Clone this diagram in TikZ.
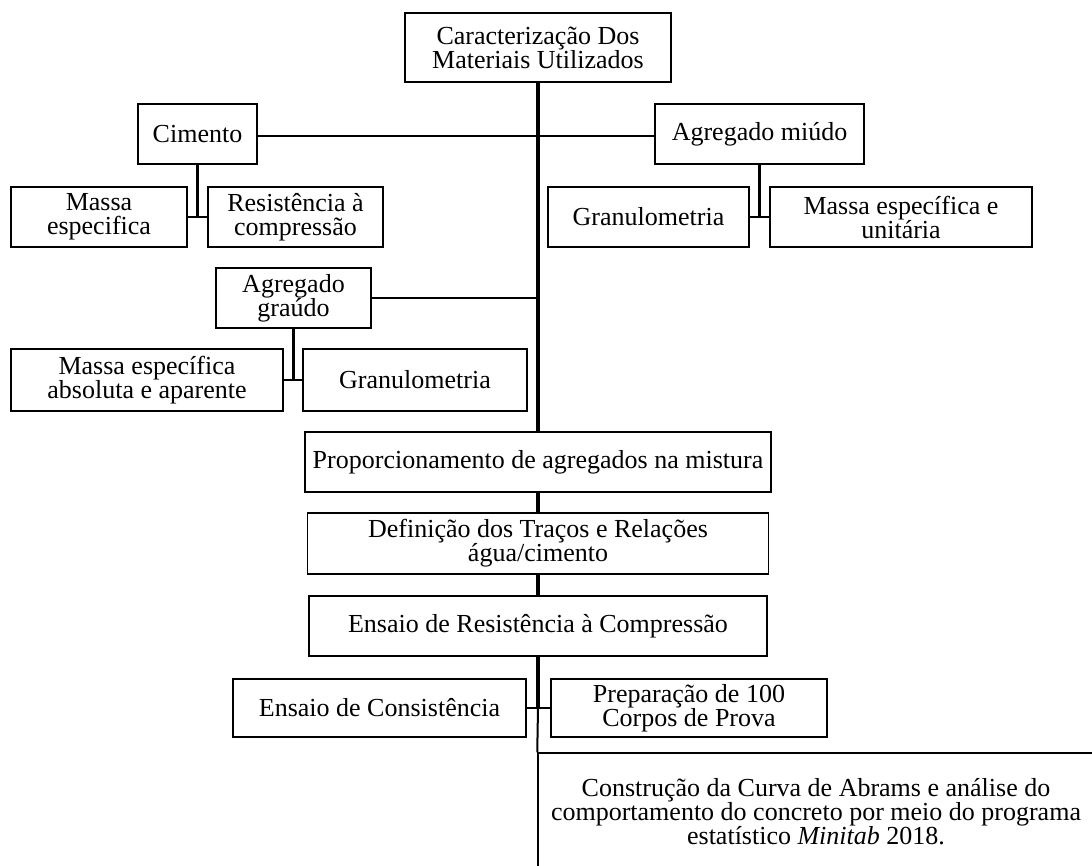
\documentclass[tikz,border=0pt]{standalone}
\usepackage{fontspec}
\setmainfont{Liberation Serif}
\begin{document}
\begin{tikzpicture}[x=1pt,y=-1pt,
  box/.style={draw, line width=1.5pt, inner sep=0pt, align=center,
    font=\fontsize{26}{24}\selectfont},
  trunk/.style={line width=3.5pt},
  link/.style={line width=2pt}]
\useasboundingbox (0,0) rectangle (1092,865);
% boxes
\node[box, minimum width=266pt, minimum height=69pt] (top) at (538,47.5) {Caracterização Dos\\Materiais Utilizados};
\node[box, minimum width=119pt, minimum height=60pt] (cim) at (197.5,134) {Cimento};
\node[box, minimum width=176pt, minimum height=60pt] (mesp) at (99,217) {Massa\\especifica};
\node[box, minimum width=175pt, minimum height=60pt] (resc) at (295.5,217) {Resistência à\\compressão};
\node[box, minimum width=209pt, minimum height=60pt] (agm) at (759.5,134) {Agregado miúdo};
\node[box, minimum width=201pt, minimum height=60pt] (gran1) at (648.5,217) {Granulometria};
\node[box, minimum width=262pt, minimum height=60pt] (meu) at (901,217) {Massa específica e\\unitária};
\node[box, minimum width=155pt, minimum height=60pt] (agg) at (293.5,298) {Agregado\\graúdo};
\node[box, minimum width=272pt, minimum height=62pt] (mabs) at (147,380) {Massa específica\\absoluta e aparente};
\node[box, minimum width=224pt, minimum height=62pt] (gran2) at (415,380) {Granulometria};
\node[box, minimum width=466pt, minimum height=60pt] (prop) at (538,462) {Proporcionamento de agregados na mistura};
\node[box, minimum width=461pt, minimum height=61pt] (def) at (538,543.5) {Definição dos Traços e Relações\\água/cimento};
\node[box, minimum width=458pt, minimum height=60pt] (ens) at (538,626) {Ensaio de Resistência à Compressão};
\node[box, minimum width=293pt, minimum height=58pt] (cons) at (379.5,708) {Ensaio de Consistência};
\node[box, minimum width=276pt, minimum height=58pt] (prep) at (689,708) {Preparação de 100\\Corpos de Prova};
\node[box, minimum width=556pt, minimum height=118pt] (fin) at (816,812) {Construção da Curva de Abrams e análise do\\comportamento do concreto por meio do programa\\estatístico \textit{Minitab} 2018.};
% junction coordinates
\coordinate (jA) at (538,136);
\coordinate (jG) at (538,298);
\coordinate (jE) at (538,708);
\coordinate (jC) at (cim.south |- mesp.east);
\coordinate (jM) at (agm.south |- gran1.east);
\coordinate (jR) at (agg.south |- mabs.east);
% connectors
\draw[trunk] (top.south) -- (prop.north);
\draw[link] (cim.east |- jA) -- (agm.west |- jA);
\draw[link] (agg.east) -- (jG);
\draw[trunk] (cim.south) -- (jC);
\draw[link] (mesp.east) -- (resc.west);
\draw[trunk] (agm.south) -- (jM);
\draw[link] (gran1.east) -- (meu.west);
\draw[trunk] (agg.south) -- (jR);
\draw[link] (mabs.east) -- (gran2.west);
\draw[trunk] (prop.south) -- (def.north);
\draw[trunk] (def.south) -- (ens.north);
\draw[trunk] (ens.south) -- (jE);
\draw[link] (cons.east) -- (prep.west);
\draw[link] (jE) -- (fin.north west);
\end{tikzpicture}
\end{document}
